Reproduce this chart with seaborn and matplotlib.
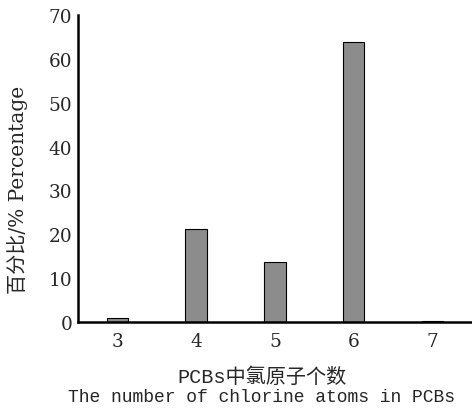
import pandas as pd
import seaborn as sns
import matplotlib.pyplot as plt
from matplotlib.ticker import FixedLocator

# chlorine atom count vs percentage
chlorine = ['3', '4', '5', '6', '7']
percentage = [0.85, 21.2, 13.8, 63.8, 0.2]
yticks = [0, 10, 20, 30, 40, 50, 60, 70]

df = pd.DataFrame({'Cl': chlorine, 'Pct': percentage})

sns.set_style('white')
plt.rcParams['font.family'] = ['DejaVu Serif', 'Noto Sans CJK SC']
mono = ['Liberation Mono', 'Noto Sans CJK SC']

fig = plt.figure(figsize=(4.72, 4.10), dpi=100)
ax = fig.add_axes([0.165, 0.212, 0.835, 0.749])

sns.barplot(data=df, x='Cl', y='Pct', color='#8c8c8c', width=0.27,
            edgecolor='black', linewidth=0.8, saturation=1, ax=ax)

ax.set_xlim(-0.5, 4.5)
ax.set_ylim(0, 70)
ax.set_yticks(yticks)
ax.xaxis.set_minor_locator(FixedLocator([0.5, 1.5, 2.5, 3.5]))
ax.tick_params(axis='x', which='major', length=0, pad=7, labelsize=13.3)
ax.tick_params(axis='x', which='minor', direction='in', length=4, width=1.3, color='black')
ax.tick_params(axis='y', direction='in', length=4, width=1.3, color='black', pad=4, labelsize=13.3)

for s in ['top', 'right']:
    ax.spines[s].set_visible(False)
for s in ['left', 'bottom']:
    ax.spines[s].set_linewidth(1.8)
    ax.spines[s].set_color('black')

ax.set_xlabel('')
ax.set_ylabel('百分比/% Percentage', fontsize=14.5, va='center')
ax.yaxis.set_label_coords(-0.152, 0.433)

fig.text(0.555, 1 - 377 / 410, 'PCBs中氯原子个数', ha='center', va='center',
         fontsize=14.5, family=mono)
fig.text(0.555, 1 - 398 / 410, 'The number of chlorine atoms in PCBs', ha='center',
         va='center', fontsize=13, family=mono)

fig.savefig('out.png', dpi=100, facecolor='white')
